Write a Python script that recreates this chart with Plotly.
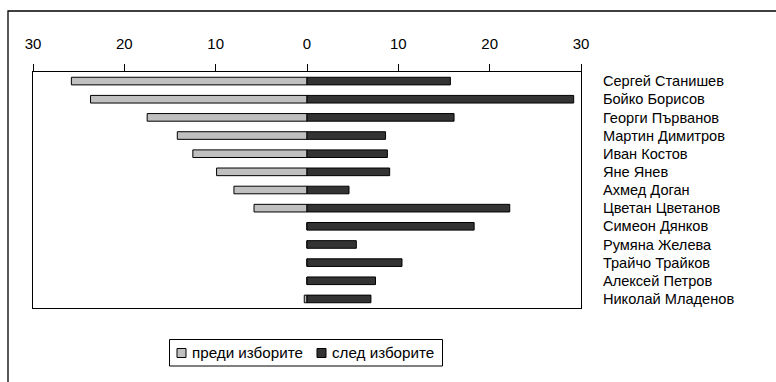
import plotly.graph_objects as go

# Rating of politicians before and after the elections
names = [
    "Сергей Станишев", "Бойко Борисов", "Георги Първанов", "Мартин Димитров",
    "Иван Костов", "Яне Янев", "Ахмед Доган", "Цветан Цветанов",
    "Симеон Дянков", "Румяна Желева", "Трайчо Трайков", "Алексей Петров",
    "Николай Младенов",
]
before = [25.8, 23.7, 17.5, 14.2, 12.5, 9.9, 8.0, 5.8, 0, 0, 0, 0, 0.3]
after = [15.7, 29.2, 16.1, 8.6, 8.8, 9.05, 4.6, 22.2, 18.3, 5.4, 10.4, 7.5, 7.0]
tick_values = [-30, -20, -10, 0, 10, 20, 30]
tick_labels = ["30", "20", "10", "0", "10", "20", "30"]
series_names = ["преди изборите", "след изборите"]
series_colors = ["#C0C0C0", "#333333"]

font_family = "Arial, Liberation Sans, sans-serif"

fig = go.Figure()
fig.add_trace(go.Bar(
    y=names, x=[-v for v in before], orientation="h", name=series_names[0],
    marker=dict(color=series_colors[0], line=dict(color="#000000", width=1)),
))
fig.add_trace(go.Bar(
    y=names, x=after, orientation="h", name=series_names[1],
    marker=dict(color=series_colors[1], line=dict(color="#000000", width=1)),
))

W, H = 776, 382
L, R, T, B = 33, 195, 72, 74
pw, ph = W - L - R, H - T - B


def px_x(x):
    return (x - L) / pw


def px_y(y):
    return (T + ph - y) / ph


fig.update_layout(
    width=W, height=H,
    margin=dict(l=L, r=R, t=T, b=B, pad=0),
    paper_bgcolor="white", plot_bgcolor="white",
    barmode="relative", bargap=0.58,
    font=dict(family=font_family, color="#000000"),
    showlegend=False,
    xaxis=dict(
        range=[-30, 30], side="top", tickmode="array",
        tickvals=tick_values, ticktext=tick_labels,
        ticks="outside", ticklen=7, tickwidth=1, tickcolor="#000000",
        ticklabelstandoff=9,
        showline=True, linecolor="#000000", linewidth=1, mirror=True,
        showgrid=False, zeroline=False,
        tickfont=dict(size=15),
    ),
    yaxis=dict(
        categoryorder="array", categoryarray=names, autorange="reversed",
        side="right", ticks="", ticklabelstandoff=18,
        showline=True, linecolor="#000000", linewidth=1, mirror=True,
        showgrid=False, zeroline=False,
        tickfont=dict(size=14.6),
    ),
)

# outer chart frame (extends past the right and bottom edges)
fig.add_shape(
    type="rect", xref="paper", yref="paper",
    x0=px_x(8), x1=px_x(W + 20), y0=px_y(H + 20), y1=px_y(11),
    line=dict(color="#000000", width=1.3), layer="below",
)

# legend box with square keys
fig.add_shape(
    type="rect", xref="paper", yref="paper",
    x0=px_x(169.5), x1=px_x(442.5), y0=px_y(366), y1=px_y(339.5),
    line=dict(color="#000000", width=1), fillcolor="white",
)
legend_key_x = [177, 317]
for kx, name, color in zip(legend_key_x, series_names, series_colors):
    fig.add_shape(
        type="rect", xref="paper", yref="paper",
        x0=px_x(kx), x1=px_x(kx + 9), y0=px_y(357.5), y1=px_y(348.5),
        line=dict(color="#000000", width=1), fillcolor=color,
    )
    fig.add_annotation(
        xref="paper", yref="paper", x=px_x(kx + 13), y=px_y(352.5),
        text=name, showarrow=False, xanchor="left", yanchor="middle",
        font=dict(size=15.2), xshift=0, yshift=0,
    )

fig.write_html("out.html")
